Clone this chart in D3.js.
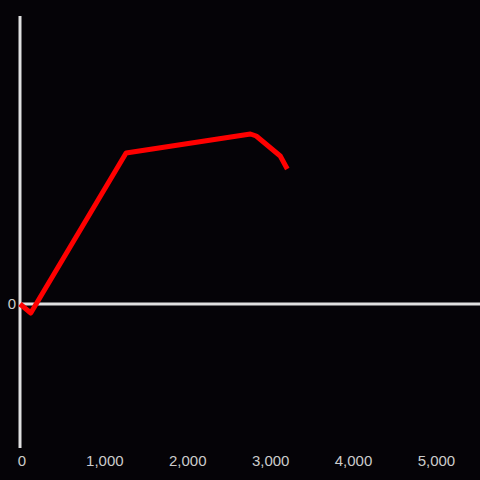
<!DOCTYPE html>
<html>
<head>
<meta charset="utf-8">
<script src="https://cdn.jsdelivr.net/npm/d3@7"></script>
<style>
  body { margin: 0; background: #050307; }
  svg { display: block; }
</style>
</head>
<body>
<svg width="480" height="480"></svg>
<script>
// Data
var xValues = [0, 130, 1280, 2780, 2850, 3140, 3225];
var yValues = [0, -0.09, 1.51, 1.70, 1.68, 1.48, 1.35];
var xTicks = [0, 1000, 2000, 3000, 4000, 5000];

var svg = d3.select("svg"),
    width = +svg.attr("width"),
    height = +svg.attr("height");

svg.append("rect").attr("width", width).attr("height", height).attr("fill", "#050307");

var x = d3.scaleLinear().domain([0, 5550]).range([20, 480]);
var y = d3.scaleLinear().domain([-1.44, 2.88]).range([448, 16]);

// y axis line
svg.append("line")
    .attr("x1", x(0)).attr("x2", x(0))
    .attr("y1", y.range()[1]).attr("y2", y.range()[0])
    .attr("stroke", "#e0e0e0").attr("stroke-width", 3);

// zero line
svg.append("line")
    .attr("x1", x(0)).attr("x2", width)
    .attr("y1", y(0)).attr("y2", y(0))
    .attr("stroke", "#e0e0e0").attr("stroke-width", 3);

svg.append("text")
    .attr("x", 16).attr("y", y(0)).attr("dy", "0.35em")
    .attr("text-anchor", "end")
    .attr("fill", "#cccccc")
    .style("font", "15px 'Liberation Sans', Arial, sans-serif")
    .text("0");

// x tick labels
var fmt = d3.format(",");
svg.append("g")
    .selectAll("text")
    .data(xTicks)
    .enter()
    .append("text")
    .attr("x", function (d) { return x(d) + 2; })
    .attr("y", 466)
    .attr("text-anchor", "middle")
    .attr("fill", "#cccccc")
    .style("font", "15px 'Liberation Sans', Arial, sans-serif")
    .text(function (d) { return fmt(d); });

// the line
var pts = xValues.map(function (v, i) { return [v, yValues[i]]; });
svg.append("path")
    .datum(pts)
    .attr("d", d3.line()
        .x(function (d) { return x(d[0]); })
        .y(function (d) { return y(d[1]); }))
    .attr("fill", "none")
    .attr("stroke", "#ff0000")
    .attr("stroke-width", 5)
    .attr("stroke-linejoin", "round");
</script>
</body>
</html>
